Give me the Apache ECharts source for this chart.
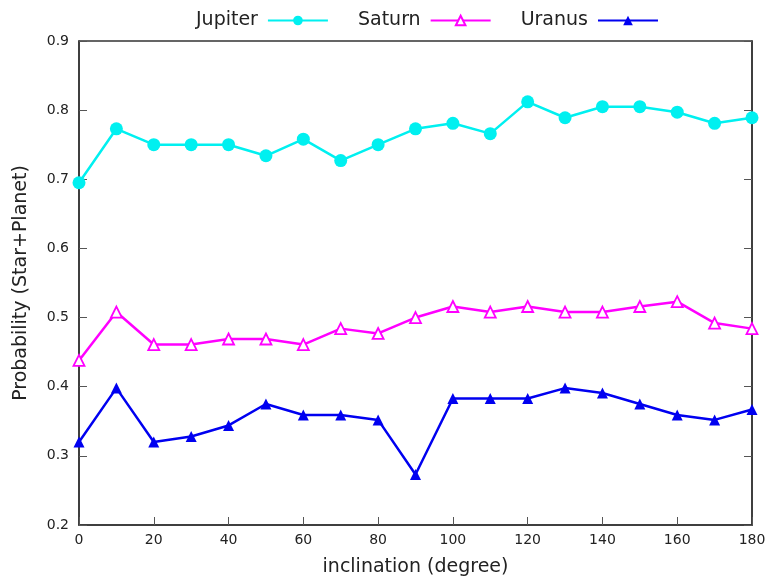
<!DOCTYPE html>
<html>
<head>
<meta charset="utf-8">
<script src="https://cdn.jsdelivr.net/npm/echarts@6/dist/echarts.min.js"></script>
<style>
  html, body { margin: 0; padding: 0; background: #fff; }
  #chart { width: 772px; height: 583px; }
</style>
</head>
<body>
<div id="chart"></div>
<script>
// Orbital inclination in degrees
const inclination = [0, 10, 20, 30, 40, 50, 60, 70, 80, 90, 100, 110, 120, 130, 140, 150, 160, 170, 180];

// Detection probability per planet
const jupiter = [0.695, 0.773, 0.750, 0.750, 0.750, 0.734, 0.758, 0.727, 0.750, 0.773,
                 0.781, 0.766, 0.812, 0.789, 0.805, 0.805, 0.797, 0.781, 0.789];
const saturn  = [0.438, 0.508, 0.461, 0.461, 0.469, 0.469, 0.461, 0.484, 0.477, 0.500,
                 0.516, 0.508, 0.516, 0.508, 0.508, 0.516, 0.523, 0.492, 0.484];
const uranus  = [0.320, 0.398, 0.320, 0.328, 0.344, 0.375, 0.359, 0.359, 0.352, 0.273,
                 0.383, 0.383, 0.383, 0.398, 0.391, 0.375, 0.359, 0.352, 0.367];

const xTicks = { min: 0, max: 180, interval: 20 };
const yTicks = { min: 0.2, max: 0.9, interval: 0.1 };

const font = 'DejaVu Sans';
const pair = (ys) => inclination.map((x, i) => [x, ys[i]]);

const chart = echarts.init(document.getElementById('chart'), null, { renderer: 'canvas' });

chart.setOption({
  backgroundColor: '#fff',
  animation: false,
  textStyle: { fontFamily: font },
  legend: {
    top: 6,
    left: 191,
    align: 'right',
    itemWidth: 60,
    itemHeight: 12,
    itemGap: 29,
    textStyle: { fontFamily: font, fontSize: 19, color: '#222', padding: [0, 5, 0, 0] },
    data: ['Jupiter', 'Saturn', 'Uranus']
  },
  grid: {
    left: 79, right: 20, top: 41, bottom: 58,
    show: true,
    borderColor: '#333',
    borderWidth: 1.5,
    backgroundColor: 'transparent'
  },
  xAxis: {
    type: 'value',
    min: xTicks.min, max: xTicks.max, interval: xTicks.interval,
    name: 'inclination (degree)',
    nameLocation: 'middle',
    nameGap: 33,
    nameTextStyle: { fontFamily: font, fontSize: 19, color: '#222' },
    axisLine: { show: true, lineStyle: { color: '#333', width: 1.5 } },
    axisTick: { show: true, inside: true, length: 8, lineStyle: { color: '#555', width: 1 } },
    axisLabel: { fontFamily: font, fontSize: 14, color: '#222', margin: 8 },
    splitLine: { show: false }
  },
  yAxis: [{
    type: 'value',
    min: yTicks.min, max: yTicks.max, interval: yTicks.interval,
    name: 'Probability (Star+Planet)',
    nameLocation: 'middle',
    nameGap: 48,
    nameTextStyle: { fontFamily: font, fontSize: 19, color: '#222' },
    axisLine: { show: true, lineStyle: { color: '#333', width: 1.5 } },
    axisTick: { show: true, inside: true, length: 8, lineStyle: { color: '#555', width: 1 } },
    axisLabel: { fontFamily: font, fontSize: 14, color: '#222', margin: 10,
                 formatter: (v) => v.toFixed(1) },
    splitLine: { show: false }
  }, {
    type: 'value',
    position: 'right',
    min: yTicks.min, max: yTicks.max, interval: yTicks.interval,
    axisLine: { show: true, lineStyle: { color: '#333', width: 1.5 } },
    axisTick: { show: true, inside: true, length: 8, lineStyle: { color: '#555', width: 1 } },
    axisLabel: { show: false },
    splitLine: { show: false }
  }],
  series: [{
    name: 'Jupiter',
    type: 'line',
    data: pair(jupiter),
    symbol: 'circle',
    symbolSize: 13,
    lineStyle: { color: '#00f0f0', width: 2.5 },
    itemStyle: { color: '#00f0f0' },
    z: 3
  }, {
    name: 'Saturn',
    type: 'line',
    data: pair(saturn),
    symbol: 'triangle',
    symbolSize: 11,
    lineStyle: { color: '#ff00ff', width: 2.5 },
    itemStyle: { color: '#fff', borderColor: '#ff00ff', borderWidth: 1.8 },
    z: 3
  }, {
    name: 'Uranus',
    type: 'line',
    data: pair(uranus),
    symbol: 'triangle',
    symbolSize: 11,
    lineStyle: { color: '#0000f0', width: 2.5 },
    itemStyle: { color: '#0000f0' },
    z: 3
  }]
});
</script>
</body>
</html>
